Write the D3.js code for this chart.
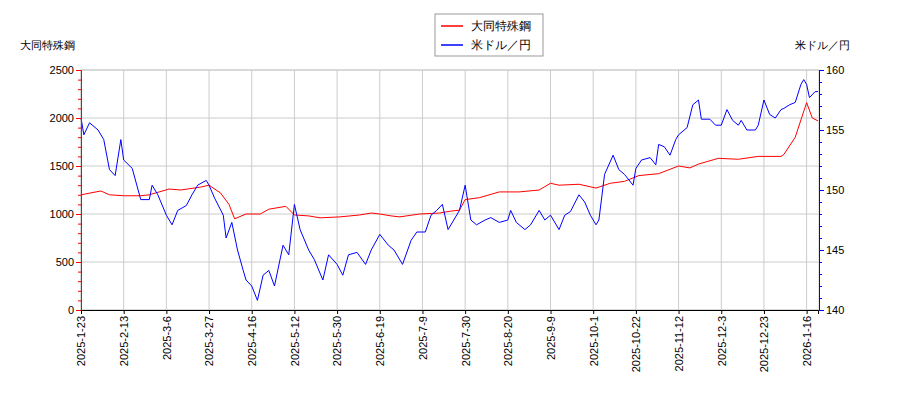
<!DOCTYPE html>
<html><head><meta charset="utf-8">
<script src="https://cdn.jsdelivr.net/npm/d3@7"></script>
<style>body{margin:0;background:#fff;font-family:"DejaVu Sans",sans-serif}</style>
</head><body>
<svg id="chart" width="900" height="400"></svg>
<script>
const tickLabels = ['2025-1-23','2025-2-13','2025-3-6','2025-3-27','2025-4-16','2025-5-12','2025-5-30','2025-6-19','2025-7-9','2025-7-30','2025-8-20','2025-9-9','2025-10-1','2025-10-22','2025-11-12','2025-12-3','2025-12-23','2026-1-16'];
// trading-day index of each sample, and value
const stockIdx = [0,7,10,15,21,24,31,35,42,45,49,52,54,58,63,66,72,75,80,84,91,98,102,105,109,112,119,126,130,133,135,140,147,154,161,165,168,175,181,186,191,196,203,210,214,217,224,231,238,246,247,251,255,257,259];
const stockVal = [1200,1240,1200,1190,1190,1200,1260,1250,1280,1300,1220,1100,950,1000,1000,1050,1080,990,980,960,970,990,1010,1000,980,970,1000,1010,1030,1040,1150,1170,1230,1230,1250,1320,1300,1310,1270,1320,1340,1400,1420,1500,1480,1520,1580,1570,1600,1600,1620,1800,2160,2000,1970];
const usdIdx = [0,1,3,6,8,10,12,14,15,18,21,24,25,27,30,32,34,37,39,41,44,45,47,50,51,53,55,57,58,60,62,64,66,68,71,73,75,77,80,82,85,87,90,92,94,97,100,102,105,108,110,113,116,118,121,123,125,127,129,131,133,135,137,139,142,144,147,150,151,153,156,158,161,163,165,168,170,172,175,177,179,181,182,184,187,189,191,194,195,197,200,202,203,205,207,209,210,213,215,217,218,221,223,225,227,229,231,232,234,237,238,240,242,244,246,247,249,251,253,254,255,256,258,259];
const usdVal = [156,154.6,155.6,155,154.2,151.7,151.2,154.2,152.5,151.8,149.2,149.2,150.4,149.6,147.9,147.1,148.3,148.7,149.6,150.4,150.8,150.4,149.3,147.9,146,147.3,145,143.3,142.5,142,140.8,142.9,143.3,142,145.4,144.6,148.8,146.7,145,144.2,142.5,144.6,143.8,142.9,144.6,144.8,143.8,145,146.3,145.4,145,143.8,145.8,146.5,146.5,147.9,148.3,148.8,146.7,147.5,148.3,150.4,147.5,147.1,147.5,147.7,147.3,147.5,148.3,147.3,146.7,147.1,148.3,147.5,147.9,146.7,147.9,148.2,149.6,149,147.9,147.1,147.5,151.3,152.9,151.7,151.3,150.4,151.8,152.5,152.7,152.1,153.8,153.6,152.9,154.2,154.6,155.2,157.1,157.5,155.9,155.9,155.4,155.4,156.7,155.8,155.4,155.8,155,155,155.4,157.5,156.3,156,156.7,156.8,157.1,157.3,158.8,159.2,158.8,157.7,158.2,158.2];

const m = {left: 81, right: 819, top: 70, bottom: 310};
const svg = d3.select('#chart');
const x = d3.scaleLinear().domain([0, 259]).range([m.left, 818]);
const yL = d3.scaleLinear().domain([0, 2500]).range([m.bottom, m.top]);
const yR = d3.scaleLinear().domain([140, 160]).range([m.bottom, m.top]);
const tickIdx = tickLabels.map((d, i) => i * 15);

// grid
svg.append('g').selectAll('line').data(tickIdx).enter().append('line')
  .attr('x1', d => x(d)).attr('x2', d => x(d)).attr('y1', m.top).attr('y2', m.bottom)
  .attr('stroke', '#ccc');
svg.append('g').selectAll('line').data(yL.ticks(5)).enter().append('line')
  .attr('x1', m.left).attr('x2', m.right).attr('y1', d => yL(d)).attr('y2', d => yL(d))
  .attr('stroke', '#ccc');
svg.append('rect').attr('x', m.left).attr('y', m.top).attr('width', m.right - m.left)
  .attr('height', m.bottom - m.top).attr('fill', 'none').attr('stroke', '#ccc');

// lines
svg.append('path').datum(d3.zip(stockIdx, stockVal)).attr('fill', 'none').attr('stroke', 'red')
  .attr('d', d3.line().x(d => x(d[0])).y(d => yL(d[1])));
svg.append('path').datum(d3.zip(usdIdx, usdVal)).attr('fill', 'none').attr('stroke', 'blue')
  .attr('d', d3.line().x(d => x(d[0])).y(d => yR(d[1])));

// axes
const left = svg.append('g').attr('transform', `translate(${m.left},0)`)
  .call(d3.axisLeft(yL).tickValues(d3.range(0, 2501, 100)).tickSize(4).tickFormat(d => d % 500 ? '' : d));
left.selectAll('path,line').attr('stroke', 'red');
left.selectAll('line').attr('x2', d => d % 500 ? -3 : -5);
left.selectAll('text').attr('font-size', 11).attr('fill', '#000');

const right = svg.append('g').attr('transform', `translate(${m.right},0)`)
  .call(d3.axisRight(yR).tickValues(d3.range(140, 160.1, 1)).tickSize(4).tickFormat(d => d % 5 ? '' : d));
right.selectAll('path,line').attr('stroke', 'blue');
right.selectAll('line').attr('x2', d => d % 5 ? 3 : 5);
right.selectAll('text').attr('font-size', 11).attr('fill', '#000');

const bottom = svg.append('g').attr('transform', `translate(0,${m.bottom})`)
  .call(d3.axisBottom(x).tickValues(tickIdx).tickSize(4).tickFormat((d, i) => tickLabels[i]));
bottom.select('.domain').attr('stroke', '#000');
bottom.selectAll('text').attr('font-size', 11).attr('fill', '#000')
  .attr('transform', 'rotate(-90)').attr('text-anchor', 'end')
  .attr('x', -6).attr('y', 0).attr('dy', '0.35em');

svg.append('text').attr('x', 20).attr('y', 49).attr('font-size', 11).text('大同特殊鋼');
svg.append('text').attr('x', 850).attr('y', 49).attr('font-size', 11).attr('text-anchor', 'end').text('米ドル／円');

// legend
const lg = svg.append('g').attr('transform', 'translate(435,14)');
lg.append('rect').attr('width', 108).attr('height', 42).attr('fill', '#fff').attr('stroke', '#999');
[['大同特殊鋼', 'red'], ['米ドル／円', 'blue']].forEach((d, i) => {
  lg.append('line').attr('x1', 6).attr('x2', 28).attr('y1', 12 + i * 19).attr('y2', 12 + i * 19).attr('stroke', d[1]).attr('stroke-width', 1.5);
  lg.append('text').attr('x', 36).attr('y', 16 + i * 19).attr('font-size', 12).text(d[0]);
});
</script>
</body></html>
